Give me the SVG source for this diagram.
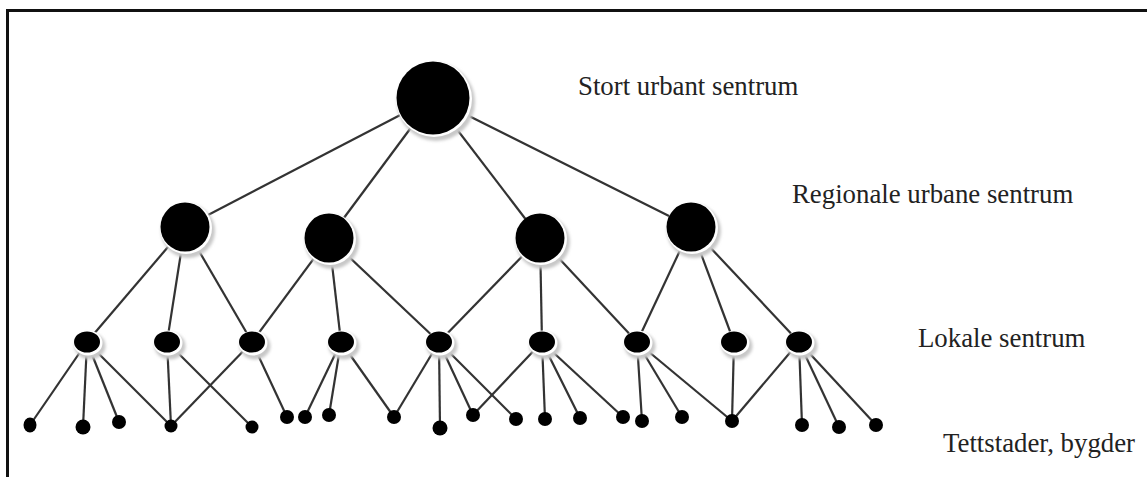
<svg xmlns="http://www.w3.org/2000/svg" width="1147" height="477" viewBox="0 0 1147 477">
<style>
.frame{fill:none;stroke:#111;stroke-width:3}
.edge{stroke:#333;stroke-width:2.2;fill:none}
.dot{fill:#000}
.halo{fill:#c8c8c8;filter:url(#blur)}
.gap{fill:#fff}
.lbl{font-family:"Liberation Serif","Times New Roman",serif;font-size:26.8px;fill:#222}
</style>
<defs>
<filter id="blur" x="-30%" y="-30%" width="160%" height="160%"><feGaussianBlur stdDeviation="1.5"/></filter>
</defs>
<rect width="1147" height="477" fill="#fff"/>
<path class="frame" d="M7.5,480 V10.5 H1150"/>
<g id="connectors">
<line class="edge" x1="433" y1="98" x2="185" y2="227"/>
<line class="edge" x1="433" y1="98" x2="329" y2="238"/>
<line class="edge" x1="433" y1="98" x2="540" y2="238"/>
<line class="edge" x1="433" y1="98" x2="691" y2="227"/>
<line class="edge" x1="185" y1="227" x2="87" y2="342"/>
<line class="edge" x1="185" y1="227" x2="167" y2="342"/>
<line class="edge" x1="185" y1="227" x2="252" y2="342"/>
<line class="edge" x1="329" y1="238" x2="252" y2="342"/>
<line class="edge" x1="329" y1="238" x2="341" y2="342"/>
<line class="edge" x1="329" y1="238" x2="439" y2="342"/>
<line class="edge" x1="540" y1="238" x2="439" y2="342"/>
<line class="edge" x1="540" y1="238" x2="542" y2="342"/>
<line class="edge" x1="540" y1="238" x2="637" y2="342"/>
<line class="edge" x1="691" y1="227" x2="637" y2="342"/>
<line class="edge" x1="691" y1="227" x2="734" y2="342"/>
<line class="edge" x1="691" y1="227" x2="799" y2="342"/>
<line class="edge" x1="87" y1="342" x2="30" y2="425"/>
<line class="edge" x1="87" y1="342" x2="83" y2="427"/>
<line class="edge" x1="87" y1="342" x2="119" y2="422"/>
<line class="edge" x1="87" y1="342" x2="171" y2="426"/>
<line class="edge" x1="167" y1="342" x2="171" y2="426"/>
<line class="edge" x1="167" y1="342" x2="252" y2="427"/>
<line class="edge" x1="252" y1="342" x2="171" y2="426"/>
<line class="edge" x1="252" y1="342" x2="287" y2="417"/>
<line class="edge" x1="341" y1="342" x2="305" y2="417"/>
<line class="edge" x1="341" y1="342" x2="329" y2="415"/>
<line class="edge" x1="341" y1="342" x2="394" y2="417"/>
<line class="edge" x1="439" y1="342" x2="394" y2="417"/>
<line class="edge" x1="439" y1="342" x2="440" y2="428"/>
<line class="edge" x1="439" y1="342" x2="473" y2="415"/>
<line class="edge" x1="439" y1="342" x2="516" y2="419"/>
<line class="edge" x1="542" y1="342" x2="473" y2="415"/>
<line class="edge" x1="542" y1="342" x2="545" y2="419"/>
<line class="edge" x1="542" y1="342" x2="580" y2="418"/>
<line class="edge" x1="542" y1="342" x2="623" y2="417"/>
<line class="edge" x1="637" y1="342" x2="642" y2="421"/>
<line class="edge" x1="637" y1="342" x2="682" y2="417"/>
<line class="edge" x1="637" y1="342" x2="732" y2="421"/>
<line class="edge" x1="734" y1="342" x2="732" y2="421"/>
<line class="edge" x1="799" y1="342" x2="732" y2="421"/>
<line class="edge" x1="799" y1="342" x2="802" y2="425"/>
<line class="edge" x1="799" y1="342" x2="839" y2="427"/>
<line class="edge" x1="799" y1="342" x2="876" y2="425"/>
</g>
<g id="top"><circle class="halo" cx="436" cy="102" r="39"/><circle class="gap" cx="434" cy="99" r="38"/><circle class="dot" cx="433" cy="98" r="36.5"/></g>
<g id="r1"><circle class="halo" cx="188" cy="231" r="27"/><circle class="gap" cx="186" cy="228" r="26"/><circle class="dot" cx="185" cy="227" r="24.5"/></g>
<g id="r2"><circle class="halo" cx="332" cy="242" r="27"/><circle class="gap" cx="330" cy="239" r="26"/><circle class="dot" cx="329" cy="238" r="24.5"/></g>
<g id="r3"><circle class="halo" cx="543" cy="242" r="27"/><circle class="gap" cx="541" cy="239" r="26"/><circle class="dot" cx="540" cy="238" r="24.5"/></g>
<g id="r4"><circle class="halo" cx="694" cy="231" r="27"/><circle class="gap" cx="692" cy="228" r="26"/><circle class="dot" cx="691" cy="227" r="24.5"/></g>
<g id="c1"><ellipse class="halo" cx="90" cy="346" rx="15.5" ry="13.5"/><ellipse class="gap" cx="88" cy="343" rx="14.5" ry="12.5"/><ellipse class="dot" cx="87" cy="342" rx="13" ry="10.5"/></g>
<g id="c2"><ellipse class="halo" cx="170" cy="346" rx="15.5" ry="13.5"/><ellipse class="gap" cx="168" cy="343" rx="14.5" ry="12.5"/><ellipse class="dot" cx="167" cy="342" rx="13" ry="10.5"/></g>
<g id="c3"><ellipse class="halo" cx="255" cy="346" rx="15.5" ry="13.5"/><ellipse class="gap" cx="253" cy="343" rx="14.5" ry="12.5"/><ellipse class="dot" cx="252" cy="342" rx="13" ry="10.5"/></g>
<g id="c4"><ellipse class="halo" cx="344" cy="346" rx="15.5" ry="13.5"/><ellipse class="gap" cx="342" cy="343" rx="14.5" ry="12.5"/><ellipse class="dot" cx="341" cy="342" rx="13" ry="10.5"/></g>
<g id="c5"><ellipse class="halo" cx="442" cy="346" rx="15.5" ry="13.5"/><ellipse class="gap" cx="440" cy="343" rx="14.5" ry="12.5"/><ellipse class="dot" cx="439" cy="342" rx="13" ry="10.5"/></g>
<g id="c6"><ellipse class="halo" cx="545" cy="346" rx="15.5" ry="13.5"/><ellipse class="gap" cx="543" cy="343" rx="14.5" ry="12.5"/><ellipse class="dot" cx="542" cy="342" rx="13" ry="10.5"/></g>
<g id="c7"><ellipse class="halo" cx="640" cy="346" rx="15.5" ry="13.5"/><ellipse class="gap" cx="638" cy="343" rx="14.5" ry="12.5"/><ellipse class="dot" cx="637" cy="342" rx="13" ry="10.5"/></g>
<g id="c8"><ellipse class="halo" cx="737" cy="346" rx="15.5" ry="13.5"/><ellipse class="gap" cx="735" cy="343" rx="14.5" ry="12.5"/><ellipse class="dot" cx="734" cy="342" rx="13" ry="10.5"/></g>
<g id="c9"><ellipse class="halo" cx="802" cy="346" rx="15.5" ry="13.5"/><ellipse class="gap" cx="800" cy="343" rx="14.5" ry="12.5"/><ellipse class="dot" cx="799" cy="342" rx="13" ry="10.5"/></g>
<g id="leaves">
<g id="l1"><ellipse class="dot" cx="30" cy="425" rx="6.5" ry="7.5"/></g>
<g id="l2"><circle class="dot" cx="83" cy="427" r="7.5"/></g>
<g id="l3"><circle class="dot" cx="119" cy="422" r="7"/></g>
<g id="l4"><circle class="dot" cx="171" cy="426" r="6.5"/></g>
<g id="l5"><circle class="dot" cx="252" cy="427" r="6.5"/></g>
<g id="l6"><circle class="dot" cx="287" cy="417" r="7"/></g>
<g id="l7"><circle class="dot" cx="305" cy="417" r="7"/></g>
<g id="l8"><circle class="dot" cx="329" cy="415" r="7"/></g>
<g id="l9"><circle class="dot" cx="394" cy="417" r="7"/></g>
<g id="l10"><circle class="dot" cx="440" cy="428" r="7.5"/></g>
<g id="l11"><circle class="dot" cx="473" cy="415" r="7"/></g>
<g id="l12"><circle class="dot" cx="516" cy="419" r="7"/></g>
<g id="l13"><circle class="dot" cx="545" cy="419" r="7"/></g>
<g id="l14"><circle class="dot" cx="580" cy="418" r="7"/></g>
<g id="l15"><circle class="dot" cx="623" cy="417" r="7"/></g>
<g id="l16"><circle class="dot" cx="642" cy="421" r="7"/></g>
<g id="l17"><circle class="dot" cx="682" cy="417" r="7"/></g>
<g id="l18"><circle class="dot" cx="732" cy="421" r="7"/></g>
<g id="l19"><circle class="dot" cx="802" cy="425" r="7"/></g>
<g id="l20"><circle class="dot" cx="839" cy="427" r="7"/></g>
<g id="l21"><circle class="dot" cx="876" cy="425" r="7"/></g>
</g>
<g id="labels">
<text class="lbl" x="578" y="95">Stort urbant sentrum</text>
<text class="lbl" x="792" y="203">Regionale urbane sentrum</text>
<text class="lbl" x="918" y="347">Lokale sentrum</text>
<text class="lbl" x="943" y="452">Tettstader, bygder</text>
</g>
</svg>
